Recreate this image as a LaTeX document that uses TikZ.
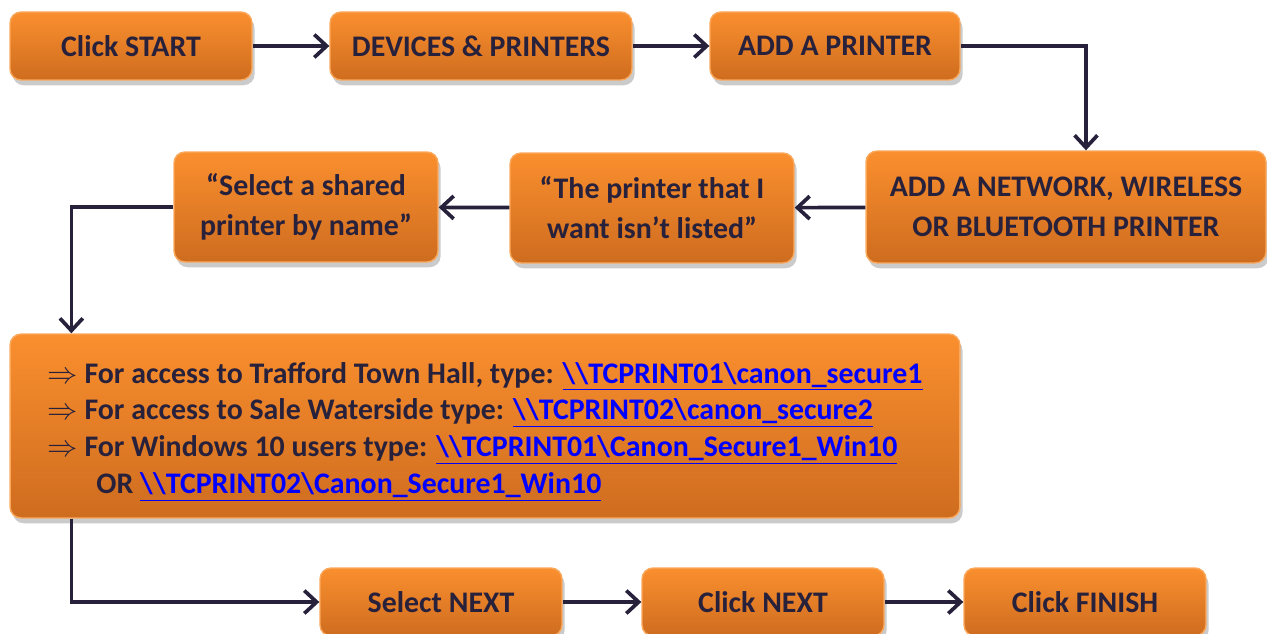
\documentclass[tikz,border=0pt]{standalone}
\usepackage{fontspec}
\setmainfont{Carlito}
\usetikzlibrary{arrows.meta,shadows}

\definecolor{orangetop}{RGB}{250,143,46}
\definecolor{orangebot}{RGB}{206,108,31}
\definecolor{orangeedge}{RGB}{250,168,92}
\definecolor{inkdark}{RGB}{40,33,60}
\definecolor{linkblue}{RGB}{0,0,255}

\newcommand{\weblink}[1]{\textcolor{linkblue}{\underline{#1}}}

\begin{document}
\begin{tikzpicture}[x=0.02cm,y=-0.02cm,
  box/.style={draw=orangeedge, line width=0.8pt, rounded corners=0.22cm,
    top color=orangetop, bottom color=orangebot, text=inkdark,
    font=\fontsize{17}{22.7}\selectfont\bfseries, align=center,
    drop shadow={shadow xshift=1.5pt, shadow yshift=-3pt, fill=black!45, opacity=0.45}},
  arr/.style={draw=inkdark, line width=2.1pt,
    -{Straight Barb[length=7pt,width=13pt,line width=2.1pt]}}]

\useasboundingbox (0,0) rectangle (1267,634);

% Top row
\node[box, minimum width=4.84cm, minimum height=1.36cm] (start) at (131,46) {Click START};
\node[box, minimum width=6.04cm, minimum height=1.36cm] (devices) at (481,46) {DEVICES \& PRINTERS};
\node[box, minimum width=5.00cm, minimum height=1.36cm] (addprn) at (835,46) {ADD A PRINTER};

% Middle row
\node[box, minimum width=8.00cm, minimum height=2.24cm] (network) at (1066,207) {ADD A NETWORK, WIRELESS\\OR BLUETOOTH PRINTER};
\node[box, minimum width=5.68cm, minimum height=2.20cm] (notlisted) at (652,208) {“The printer that I\\want isn’t listed”};
\node[box, minimum width=5.28cm, minimum height=2.20cm] (shared) at (306,207) {“Select a shared\\printer by name”};

% Printer paths
\node[box, minimum width=19.00cm, minimum height=3.68cm, align=left,
  font=\fontsize{17}{21}\selectfont\bfseries] (access) at (485,426)
  {\rule{0pt}{18.5pt}$\Rightarrow$ For access to Trafford Town Hall, type: \weblink{\textbackslash\textbackslash TCPRINT01\textbackslash canon\_secure1}\\
   $\Rightarrow$ For access to Sale Waterside type: \weblink{\textbackslash\textbackslash TCPRINT02\textbackslash canon\_secure2}\\
   $\Rightarrow$ For Windows 10 users type: \weblink{\textbackslash\textbackslash TCPRINT01\textbackslash Canon\_Secure1\_Win10}\\
   \hspace{0.98cm}OR \weblink{\textbackslash\textbackslash TCPRINT02\textbackslash Canon\_Secure1\_Win10}};

% Bottom row
\node[box, minimum width=4.84cm, minimum height=1.36cm] (selnext) at (441,602) {Select NEXT};
\node[box, minimum width=4.84cm, minimum height=1.36cm] (clknext) at (763,602) {Click NEXT};
\node[box, minimum width=4.84cm, minimum height=1.36cm] (finish) at (1085,602) {Click FINISH};

% Connectors
\draw[arr] (start) -- (devices);
\draw[arr] (devices) -- (addprn);
\draw[arr] (addprn.east) -| ([xshift=0.4cm]network.north);
\draw[arr] (network) -- (notlisted);
\draw[arr] (notlisted) -- (shared);
\draw[arr] (shared.west) -| ([xshift=1.24cm]access.north west);
\draw[arr] ([xshift=1.24cm]access.south west) |- (selnext.west);
\draw[arr] (selnext) -- (clknext);
\draw[arr] (clknext) -- (finish);

\end{tikzpicture}
\end{document}
